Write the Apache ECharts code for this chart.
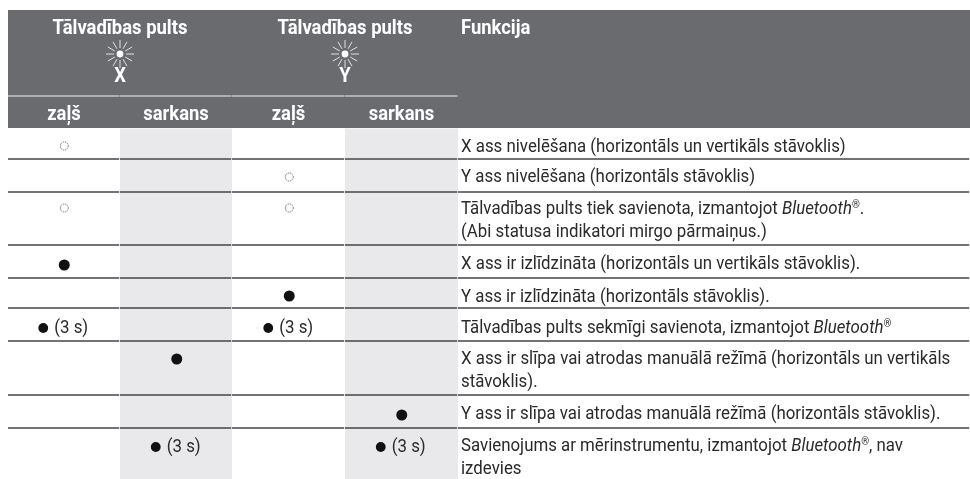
<!DOCTYPE html>
<html><head><meta charset="utf-8">
<style>html,body{margin:0;padding:0;background:#fff}#c{width:970px;height:479px}</style>
<script src="https://cdn.jsdelivr.net/npm/echarts@6/dist/echarts.min.js"></script>
</head><body><div id="c"></div>
<script>
// ---- table content ----
const groupTitles = ['Tālvadības pults', 'Tālvadības pults'];
const groupAxes = ['X', 'Y'];
const subHeads = ['zaļš', 'sarkans', 'zaļš', 'sarkans'];
const functionHead = 'Funkcija';
const functionRows = [
  ['X ass nivelēšana (horizontāls un vertikāls stāvoklis)'],
  ['Y ass nivelēšana (horizontāls stāvoklis)'],
  ['Tālvadības pults tiek savienota, izmantojot {i|Bluetooth}{s|®}.', '(Abi statusa indikatori mirgo pārmaiņus.)'],
  ['X ass ir izlīdzināta (horizontāls un vertikāls stāvoklis).'],
  ['Y ass ir izlīdzināta (horizontāls stāvoklis).'],
  ['Tālvadības pults sekmīgi savienota, izmantojot {i|Bluetooth}{s|®}'],
  ['X ass ir slīpa vai atrodas manuālā režīmā (horizontāls un vertikāls', 'stāvoklis).'],
  ['Y ass ir slīpa vai atrodas manuālā režīmā (horizontāls stāvoklis).'],
  ['Savienojums ar mērinstrumentu, izmantojot {i|Bluetooth}{s|®}, nav', 'izdevies']
];
// cells as [column, row]
const blinkingCells = [[0, 0], [2, 1], [0, 2], [2, 2]];
const steadyCells = [[0, 3], [2, 4], [1, 6], [3, 7]];
const timedCells = [[0, 5], [2, 5], [1, 8], [3, 8]];
const timedLabel = '(3 s)';

// ---- layout (not data) ----
const FONT = 'Roboto, "Noto Sans", sans-serif';
const rowEdges = [128, 159, 192, 245, 278, 308, 341, 395, 428, 479];
const DOT_OFFSET = [18, 18, 16, 20, 18, 20, 18, 20, 19];
const LINE1 = [19, 18, 17, 19, 19, 20, 18, 19, 18];
const LINE_H = 23.5;
const BODY_X = 461, BODY_SX = 0.91, BODY_SIZE = 18.5;
const HEAD_SX = 0.878, HEAD_SIZE = 21;
const HEAD_FILL = '#6a6b6f', BAND = '#e9e9eb', RULE = '#454548', INK = '#2a2a2c';
const colEdges = [8, 120, 232, 345, 458, 970];
const bodyRich = {
  i: { fontStyle: 'italic', fontFamily: FONT, fontSize: BODY_SIZE, fill: INK },
  s: { fontFamily: FONT, fontSize: 11, fill: INK, verticalAlign: 'top' }
};

function txt(x, y, text, o) {
  o = o || {};
  return {
    type: 'text', x: x, y: y, scaleX: o.sx || 1, originX: 0, silent: true,
    style: {
      text: text, x: 0, y: 0, fill: o.fill || INK, fontFamily: FONT,
      fontSize: o.size || BODY_SIZE, fontWeight: o.weight || 'normal',
      align: o.align || 'left', verticalAlign: 'middle', rich: o.rich
    }
  };
}
function sun(cx, cy) {
  const kids = [{ type: 'circle', shape: { cx: cx, cy: cy, r: 3.4 }, style: { fill: '#fff' } }];
  for (let k = 0; k < 12; k++) {
    const a = Math.PI * k / 6;
    const r0 = 6, r1 = 14;
    kids.push({
      type: 'line',
      shape: { x1: cx + r0 * Math.cos(a), y1: cy + r0 * Math.sin(a), x2: cx + r1 * Math.cos(a), y2: cy + r1 * Math.sin(a) },
      style: { stroke: '#fff', lineWidth: 0.8 }
    });
  }
  return kids;
}
function chrome() {
  const g = [];
  g.push({ type: 'rect', shape: { x: 8, y: 10, width: 962, height: 118 }, style: { fill: HEAD_FILL } });
  [1, 3].forEach(c => g.push({ type: 'rect', shape: { x: colEdges[c], y: 128.5, width: colEdges[c + 1] - colEdges[c], height: 351 }, style: { fill: BAND } }));
  for (let c = 0; c < 4; c++) g.push({ type: 'line', shape: { x1: colEdges[c], y1: 96, x2: colEdges[c + 1] - 0.5, y2: 96 }, style: { stroke: '#f2f2f2', lineWidth: 1.2 } });
  rowEdges.slice(1, -1).forEach(y => {
    for (let c = 0; c < 5; c++) g.push({ type: 'line', shape: { x1: colEdges[c], y1: y, x2: colEdges[c + 1] - 0.8, y2: y }, style: { stroke: RULE, lineWidth: 1.4 } });
  });
  groupTitles.forEach((t, i) => {
    const cx = i === 0 ? 120 : 345;
    g.push(txt(cx, 29, t, { align: 'center', fill: '#fff', size: HEAD_SIZE, weight: 'bold', sx: HEAD_SX }));
    sun(cx, 54).forEach(k => g.push(k));
    g.push(txt(cx, 77, groupAxes[i], { align: 'center', fill: '#fff', size: HEAD_SIZE, weight: 'bold', sx: HEAD_SX }));
  });
  subHeads.forEach((t, i) => g.push(txt((colEdges[i] + colEdges[i + 1]) / 2, 115, t, { align: 'center', fill: '#fff', size: HEAD_SIZE, weight: 'bold', sx: HEAD_SX })));
  g.push(txt(BODY_X, 29, functionHead, { fill: '#fff', size: HEAD_SIZE, weight: 'bold', sx: HEAD_SX }));
  functionRows.forEach((lines, r) => lines.forEach((l, k) => {
    g.push(txt(BODY_X, rowEdges[r] + LINE1[r] + k * LINE_H, l, { sx: BODY_SX, rich: bodyRich }));
  }));
  return g;
}
const rowCenterY = r => rowEdges[r] + DOT_OFFSET[r];

const chart = echarts.init(document.getElementById('c'), null, { renderer: 'canvas' });
chart.setOption({
  animation: false,
  backgroundColor: '#fff',
  grid: { left: 8, width: 450, top: 128, height: 351, containLabel: false },
  xAxis: { type: 'category', data: subHeads.map((s, i) => i), show: false, boundaryGap: true },
  yAxis: { type: 'value', min: 128, max: 479, inverse: true, show: false },
  graphic: { elements: chrome().map(e => Object.assign(e, { z: -10 })) },
  series: [
    {
      type: 'scatter', z: 5, silent: true, symbol: 'circle', symbolSize: 8,
      itemStyle: { opacity: 1, color: '#fff', borderColor: '#6e6e6e', borderWidth: 0.9, borderType: [1.4, 0.7] },
      data: blinkingCells.map(c => [c[0], rowCenterY(c[1])])
    },
    {
      type: 'scatter', z: 5, silent: true, symbol: 'circle', symbolSize: 11,
      itemStyle: { opacity: 1, color: '#111' },
      data: steadyCells.map(c => [c[0], rowCenterY(c[1])])
    },
    {
      type: 'custom', z: 5, silent: true, clip: false,
      data: timedCells.map(c => [c[0], rowCenterY(c[1])]),
      encode: { x: 0, y: 1 },
      renderItem: function (p, api) {
        const pt = api.coord([api.value(0), api.value(1)]);
        return {
          type: 'group', children: [
            { type: 'circle', shape: { cx: pt[0] - 21, cy: pt[1], r: 4.9 }, style: { fill: '#111' } },
            { type: 'text', x: pt[0] - 10, y: pt[1], scaleX: BODY_SX, style: { text: timedLabel, x: 0, y: 0, fontFamily: FONT, fontSize: BODY_SIZE, fill: INK, verticalAlign: 'middle', align: 'left' } }
          ]
        };
      }
    }
  ]
});
</script></body></html>
